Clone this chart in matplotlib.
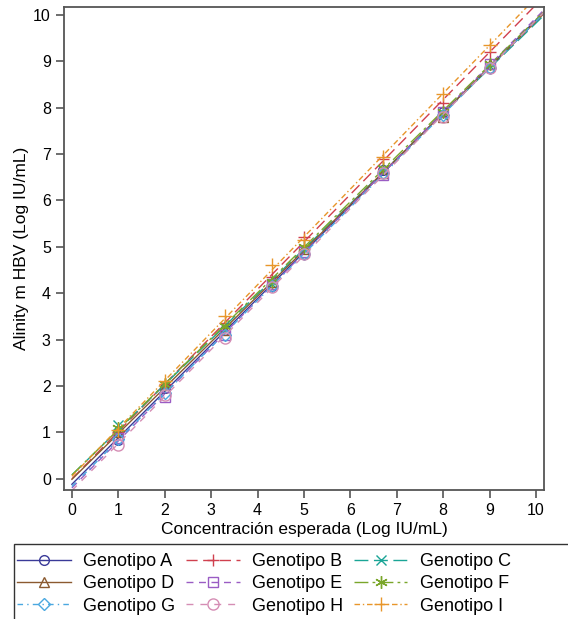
import numpy as np
import matplotlib
matplotlib.use('Agg')
import matplotlib.pyplot as plt
from matplotlib.lines import Line2D
from matplotlib.patches import Rectangle

plt.rcParams['font.family'] = ['Liberation Sans', 'DejaVu Sans']

# expected concentration (log IU/mL)
x_vals = [1, 2, 3.3, 4.3, 5, 6.7, 8, 9]

genotypes = ['A', 'B', 'C', 'D', 'E', 'F', 'G', 'H', 'I']
y_A = [0.84, 1.95, 3.20, 4.15, 4.85, 6.65, 7.90, 8.86]
y_B = [1.00, 2.05, 3.35, 4.35, 5.21, 6.90, 8.10, 9.20]
y_C = [1.16, 2.00, 3.25, 4.20, 4.95, 6.65, 7.85, 8.90]
y_D = [1.00, 1.97, 3.20, 4.25, 4.95, 6.60, 7.80, 8.95]
y_E = [0.88, 1.77, 3.10, 4.20, 4.90, 6.55, 7.90, 8.95]
y_F = [1.10, 2.05, 3.30, 4.25, 5.00, 6.70, 7.90, 8.95]
y_G = [0.85, 1.85, 3.10, 4.15, 4.85, 6.60, 7.85, 8.85]
y_H = [0.73, 1.80, 3.04, 4.14, 4.85, 6.60, 7.80, 8.86]
y_I = [1.05, 2.10, 3.50, 4.61, 5.15, 6.94, 8.30, 9.35]
y_all = [y_A, y_B, y_C, y_D, y_E, y_F, y_G, y_H, y_I]

colors = ['#3a3a98', '#d0404e', '#1aa596', '#8b5a30', '#9a5cc4',
          '#7aa62a', '#4aa8e0', '#d58db4', '#e8962a']
markers = ['o', '+', 'x', '^', 's', (6, 2, 0), 'D', 'o', '+']
msizes = [7, 9, 7, 7, 7, 9, 6, 8, 10]
dashes = [None, (8, 4), (10, 4), None, (5, 4), (10, 3, 2, 3),
          (4, 3, 1, 3), (5, 5), (4, 2, 1, 2)]

fig = plt.figure(figsize=(5.68, 6.19), dpi=100)
ax = fig.add_axes([0.1127, 0.2084, 0.845, 0.7803])

xfit = np.array([0, 10.3])
handles = []
for g, ys, c, m, ms, d in zip(genotypes, y_all, colors, markers, msizes, dashes):
    slope, icpt = np.polyfit(x_vals, ys, 1)
    ls = '-' if d is None else (0, d)
    ax.plot(xfit, icpt + slope * xfit, color=c, lw=1.0, linestyle=ls)
    ax.plot(x_vals, ys, linestyle='none', marker=m, ms=ms, mfc='none', mec=c, mew=1.0)
    handles.append(Line2D([], [], color=c, lw=1.0, linestyle=ls, marker=m,
                          ms=ms, mfc='none', mec=c, mew=1.0, label='Genotipo ' + g))

ax.set_xlim(-0.17, 10.17)
ax.set_ylim(-0.24, 10.17)
ax.set_xticks(range(0, 11))
ax.set_yticks(range(0, 11))
ax.tick_params(direction='out', length=6, width=1.2, color='#555555',
               labelsize=11.5, top=False, right=False)
for s in ax.spines.values():
    s.set_color('#555555')
    s.set_linewidth(1.3)
ax.set_xlabel('Concentración esperada (Log IU/mL)', fontsize=12.5, labelpad=3)
ax.set_ylabel('Alinity m HBV (Log IU/mL)', fontsize=12.5, labelpad=3)

# reorder so rows read A B C / D E F / G H I
order = [0, 3, 6, 1, 4, 7, 2, 5, 8]
leg = fig.legend([handles[i] for i in order], [handles[i].get_label() for i in order],
                 ncol=3, loc='upper left', bbox_to_anchor=(0.0211, 0.1147),
                 fontsize=13, frameon=False, borderaxespad=0,
                 handlelength=2.95, handletextpad=0.7, columnspacing=0.6,
                 labelspacing=0.28, borderpad=0.3, numpoints=1)

# legend frame runs off the bottom and right of the figure
fig.patches.append(Rectangle((14 / 568, -0.05), 1.0, 0.05 + 1 - 544 / 619,
                             transform=fig.transFigure, fill=False,
                             edgecolor='#333333', lw=1.0))

fig.savefig('out.png', dpi=100)
